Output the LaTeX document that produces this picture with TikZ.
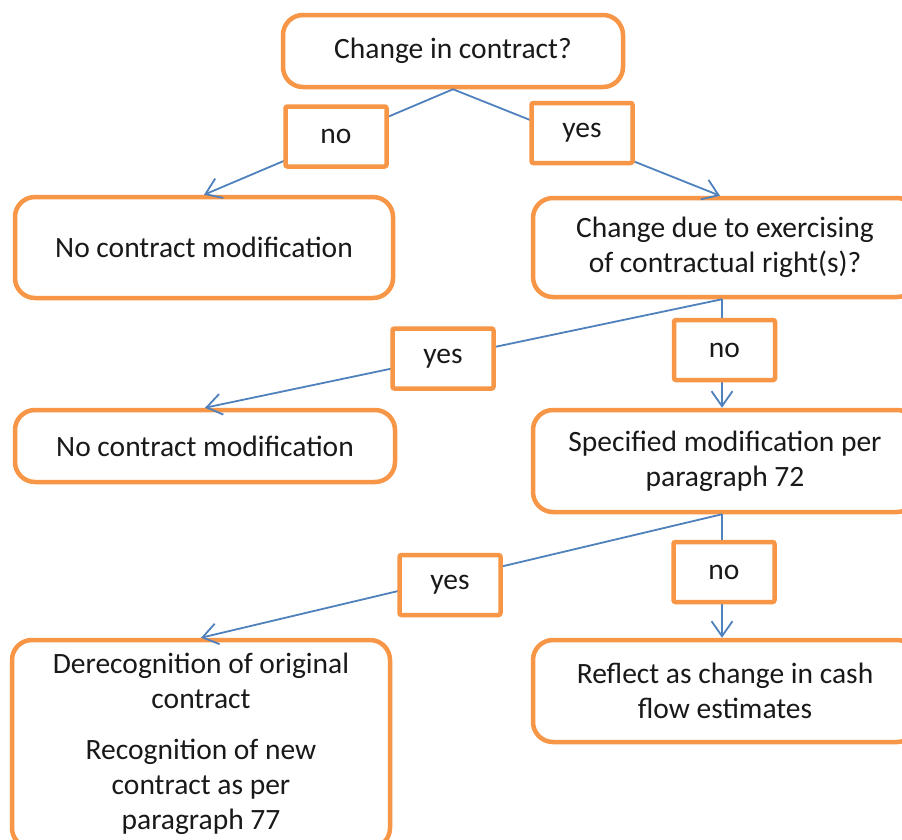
\documentclass[tikz,border=0pt]{standalone}
\usepackage{fontspec}
\setmainfont{Carlito}
\usetikzlibrary{arrows.meta}
\definecolor{boxorange}{HTML}{F79646}
\definecolor{lineblue}{HTML}{4F81BD}
\begin{document}
\begin{tikzpicture}[x=1pt,y=-1pt,
  box/.style={draw=boxorange, line width=4.5pt, rounded corners=20pt, fill=white,
    align=center, inner sep=0pt, text=black!90,
    font=\fontsize{29.5}{35}\selectfont},
  lbl/.style={draw=boxorange, line width=4.5pt, rounded corners=2pt, fill=white,
    inner sep=0pt, minimum width=101pt, minimum height=60pt, text=black!90,
    font=\fontsize{29.5}{35}\selectfont},
  conn/.style={draw=lineblue, line width=1.8pt,
    -{Straight Barb[length=15pt,width=21pt]}}]
\useasboundingbox[fill=white] (0,0) rectangle (902,839);

% main boxes
\node[box, minimum width=340pt, minimum height=72pt] (q1) at (453,51) {Change in contract?};
\node[box, minimum width=378pt, minimum height=101pt] (a1) at (204,247.5) {No contract modification};
\node[box, minimum width=384pt, minimum height=99pt] (q2) at (725,247.5) {Change due to exercising\\of contractual right(s)?};
\node[box, minimum width=380pt, minimum height=72pt] (a2) at (205,446) {No contract modification};
\node[box, minimum width=384pt, minimum height=102pt] (q3) at (725,461) {Specified modification per\\paragraph 72};
\node[box, minimum width=378pt, minimum height=208pt] (d1) at (201,744) {Derecognition of original\\contract\\[16pt]Recognition of new\\contract as per\\paragraph 77};
\node[box, minimum width=384pt, minimum height=102pt] (r1) at (725,691) {Reflect as change in cash\\flow estimates};

% connectors
\draw[conn] (q1.south) -- (a1.north);
\draw[conn] (q1.south) -- (q2.north -| 720,0);
\draw[conn] ([xshift=-3pt]q2.south) -- (a2.north);
\draw[conn] ([xshift=-3pt]q2.south) -- ([xshift=-3pt]q3.north);
\draw[conn] ([xshift=-3pt]q3.south) -- (d1.north);
\draw[conn] ([xshift=-3pt]q3.south) -- ([xshift=-3pt]r1.north);

% labels on connectors
\node[lbl] (n1) at (336,136.5) {no};
\node[lbl] (y1) at (582,133) {yes};
\node[lbl] (y2) at (443,358.5) {yes};
\node[lbl] (n2) at (724.5,350) {no};
\node[lbl] (y3) at (450,585) {yes};
\node[lbl] (n3) at (724,572) {no};
\end{tikzpicture}
\end{document}
